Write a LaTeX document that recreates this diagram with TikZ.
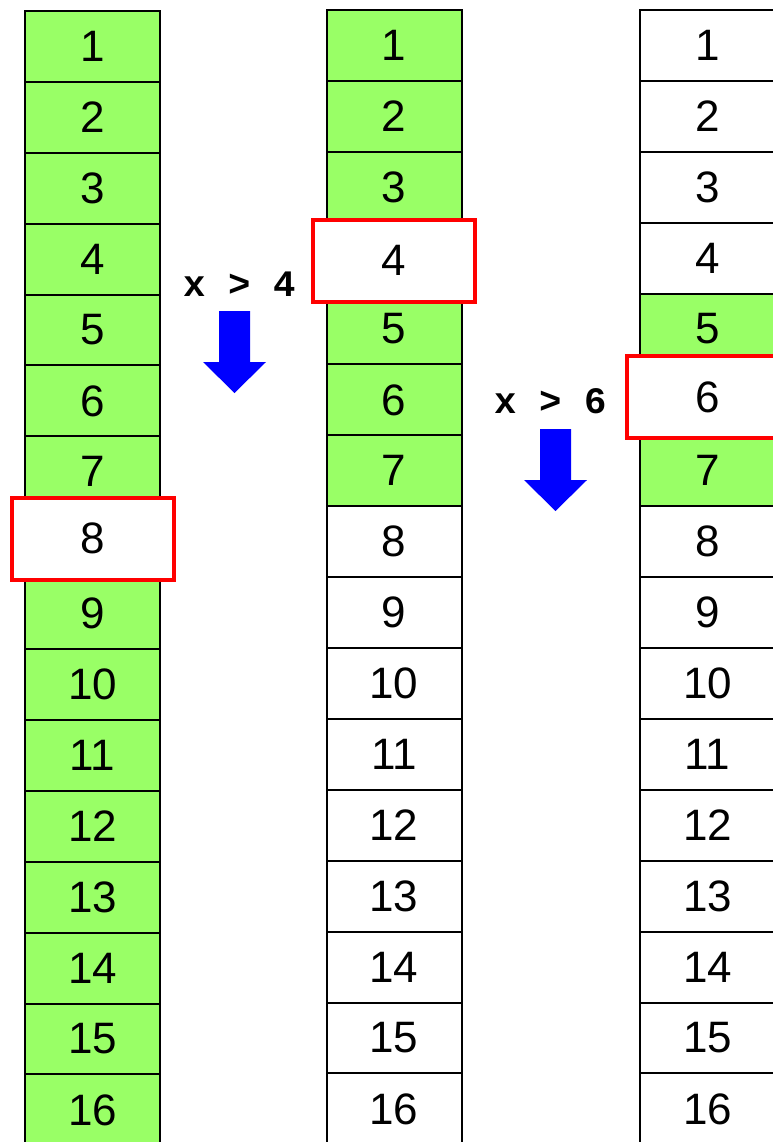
\documentclass[tikz,border=0pt]{standalone}
\usepackage{fontspec}
\setmainfont{Liberation Sans}
\setmonofont{Liberation Mono}
\usetikzlibrary{positioning}
\definecolor{cellgreen}{RGB}{153,255,102}
\definecolor{hired}{RGB}{255,0,0}
\definecolor{arrblue}{RGB}{0,0,255}
\newcommand{\blkarrow}[1]{%
  \fill[arrblue] (#1) ++(-15.5,0) -- ++(31,0) -- ++(0,51) -- ++(16,0)
    -- ++(-31.5,31) -- ++(-31.5,-31) -- ++(16,0) -- cycle;}
\tikzset{
  cell/.style={draw=black, line width=1.5pt, minimum width=101.25pt,
               minimum height=53.2pt, inner sep=0pt,
               font=\fontsize{33}{33}\selectfont},
  hilite/.style={draw=hired, line width=3pt, fill=white, minimum width=121.5pt,
                 minimum height=61.5pt, inner sep=0pt,
                 font=\fontsize{33}{33}\selectfont},
  cond/.style={anchor=base, inner sep=0pt,
               font=\ttfamily\bfseries\fontsize{28}{28}\selectfont},
}
\begin{document}
\begin{tikzpicture}[x=0.75pt, y=-0.75pt]
  \clip (0,0) rectangle (773,1142);
  \fill[white] (0,0) rectangle (773,1142);
  % first column: all in range, 8 is the middle
  \foreach \n in {1,...,16}{
    \ifnum\n=8 \def\celltext{}\else\edef\celltext{\n}\fi
    \node[cell, fill=cellgreen] (a\n) at (92.5, {11+(\n-0.5)*70.9}) {\celltext};
  }
  % second column: 1..7 left, 4 is the middle
  \foreach \n in {1,...,16}{
    \ifnum\n<8 \def\cellfill{cellgreen}\else\def\cellfill{white}\fi
    \ifnum\n=4 \def\celltext{}\else\edef\celltext{\n}\fi
    \node[cell, fill=\cellfill] (b\n) at (394, {10+(\n-0.5)*70.9}) {\celltext};
  }
  % third column: 5..7 left, 6 is the middle
  \foreach \n in {1,...,16}{
    \def\cellfill{white}
    \ifnum\n>4 \ifnum\n<8 \def\cellfill{cellgreen}\fi\fi
    \ifnum\n=6 \def\celltext{}\else\edef\celltext{\n}\fi
    \node[cell, fill=\cellfill] (c\n) at (707.5, {10+(\n-0.5)*70.9}) {\celltext};
  }
  % middle elements
  \node[hilite] (a8h) at ([yshift=3pt]a8) {8};
  \node[hilite] (b4h) at ([yshift=-2pt]b4) {4};
  \node[hilite] (c6h) at ([yshift=2pt]c6) {6};
  % comparisons
  \node[cond] (cmp1) at (240,296) {x > 4};
  \node[cond] (cmp2) at (551,413) {x > 6};
  \coordinate (arr1) at (234.5,311);
  \coordinate (arr2) at (555.5,429);
  \blkarrow{arr1}
  \blkarrow{arr2}
\end{tikzpicture}
\end{document}
